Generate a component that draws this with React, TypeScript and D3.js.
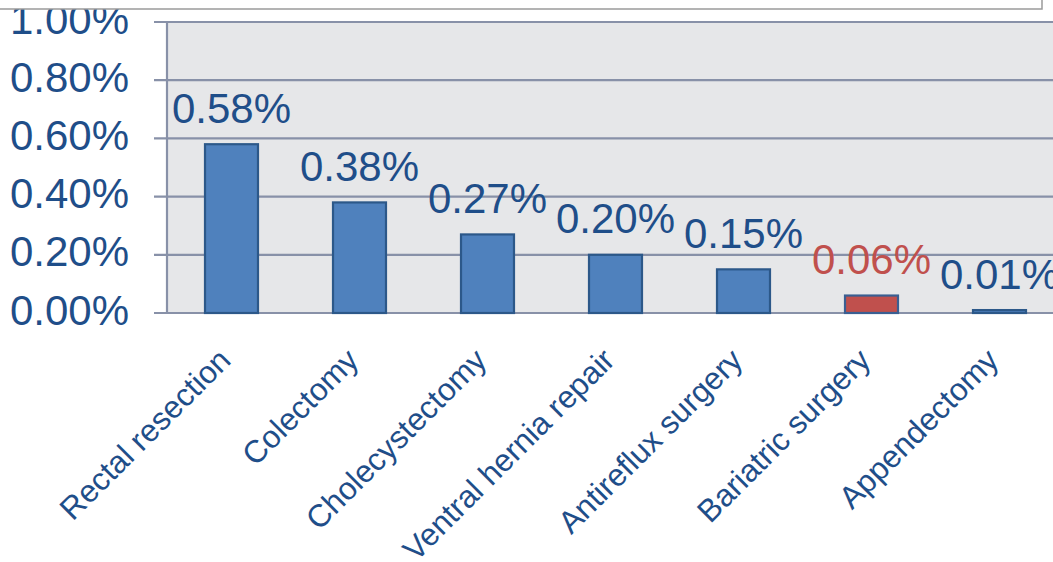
import React from "react";
import * as d3 from "d3";

const categories = [
  "Rectal resection",
  "Colectomy",
  "Cholecystectomy",
  "Ventral hernia repair",
  "Antireflux surgery",
  "Bariatric surgery",
  "Appendectomy",
];
const values = [0.0058, 0.0038, 0.0027, 0.002, 0.0015, 0.0006, 0.0001];
const highlighted = ["Bariatric surgery"];
const yTicks = [0, 0.002, 0.004, 0.006, 0.008, 0.01];

const W = 1053;
const H = 562;
const plotLeft = 167;
const step = 128;
const plotTop = 22;
const plotBottom = 313;

const blueText = "#1f4e89";
const redText = "#c0504d";
const gridColor = "#8891a8";

export default function App() {
  const x = d3
    .scaleBand<string>()
    .domain(categories)
    .range([plotLeft + 0.5, plotLeft + 0.5 + step * categories.length])
    .paddingInner(0.586)
    .paddingOuter(0.293);
  const y = d3.scaleLinear().domain([0, 0.01]).range([plotBottom, plotTop]);
  const fmt = d3.format(".2%");

  return (
    <svg
      width={W}
      height={H}
      style={{ position: "absolute", left: 0, top: 0, background: "#fff" }}
      fontFamily="'Liberation Sans', Arial, sans-serif"
    >
      <rect x={plotLeft} y={plotTop} width={W - plotLeft + 20} height={plotBottom - plotTop} fill="#e6e7e9" />
      {yTicks.map((t) => (
        <g key={t}>
          <line x1={154} x2={W + 10} y1={y(t)} y2={y(t)} stroke={gridColor} strokeWidth={2.2} />
          <text x={129} y={y(t) + 11.5} textAnchor="end" fontSize={42} fill={blueText}>
            {fmt(t)}
          </text>
        </g>
      ))}
      <line x1={plotLeft} x2={plotLeft} y1={plotTop} y2={plotBottom} stroke={gridColor} strokeWidth={2.2} />
      {categories.map((c, i) => {
        const v = values[i];
        const hl = highlighted.includes(c);
        const cx = (x(c) as number) + x.bandwidth() / 2;
        return (
          <g key={c}>
            <rect
              x={x(c)}
              y={y(v)}
              width={x.bandwidth()}
              height={plotBottom - y(v)}
              fill={hl ? "#c0504d" : "#4f81bd"}
              stroke={hl ? "#3a5f92" : "#2c5889"}
              strokeWidth={2.2}
            />
            <text x={cx} y={y(v) - 21.5} textAnchor="middle" fontSize={42} fill={hl ? redText : blueText}>
              {fmt(v)}
            </text>
            <text
              transform={`translate(${cx + 1},${362}) rotate(-45)`}
              textAnchor="end"
              fontSize={31.5}
              fill={blueText}
            >
              {c}
            </text>
          </g>
        );
      })}
      <rect x={-10} y={-10} width={1052} height={19} fill="#fff" stroke="#9a9a9a" strokeWidth={1.5} />
    </svg>
  );
}
